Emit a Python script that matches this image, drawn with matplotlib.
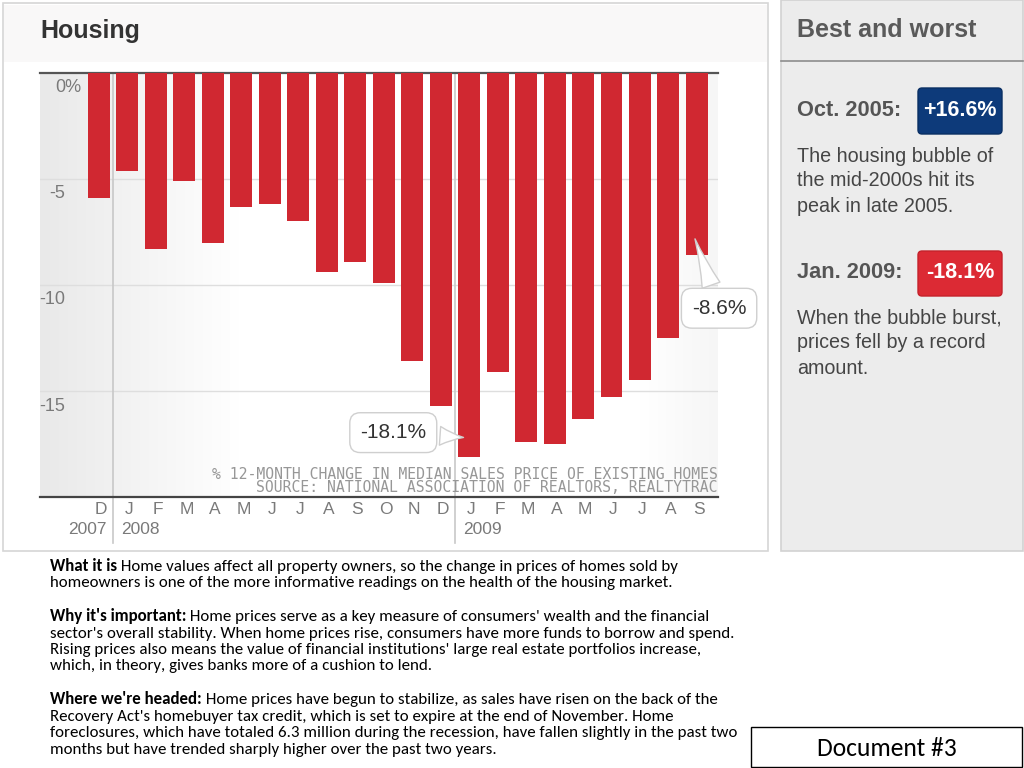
import numpy as np
import matplotlib
matplotlib.use("Agg")
import matplotlib.pyplot as plt
from matplotlib.patches import Rectangle, FancyBboxPatch

# -- data -------------------------------------------------------------------
months = ["D", "J", "F", "M", "A", "M", "J", "J", "A", "S", "O", "N",
          "D", "J", "F", "M", "A", "M", "J", "J", "A", "S"]
pct_change = [-5.9, -4.6, -8.3, -5.1, -8.0, -6.3, -6.2, -7.0, -9.4, -8.9, -9.9, -13.6,
              -15.7, -18.1, -14.1, -17.4, -17.5, -16.3, -15.3, -14.5, -12.5, -8.6]
year_labels = ["2007", "2008", "2009"]
year_starts = [0, 1, 13]          # bar index where each year label sits
y_ticks = [0, -5, -10, -15]
callouts = {13: "-18.1%", 21: "-8.6%"}

source_lines = ["% 12-MONTH CHANGE IN MEDIAN SALES PRICE OF EXISTING HOMES",
                "SOURCE: NATIONAL ASSOCIATION OF REALTORS, REALTYTRAC"]

notes = [
    ("What it is", " Home values affect all property owners, so the change in prices of homes sold by",
     ["homeowners is one of the more informative readings on the health of the housing market."]),
    ("Why it's important:", " Home prices serve as a key measure of consumers' wealth and the financial",
     ["sector's overall stability. When home prices rise, consumers have more funds to borrow and spend.",
      "Rising prices also means the value of financial institutions' large real estate portfolios increase,",
      "which, in theory, gives banks more of a cushion to lend."]),
    ("Where we're headed:", " Home prices have begun to stabilize, as sales have risen on the back of the",
     ["Recovery Act's homebuyer tax credit, which is set to expire at the end of November. Home",
      "foreclosures, which have totaled 6.3 million during the recession, have fallen slightly in the past two",
      "months but have trended sharply higher over the past two years."]),
]

RED = "#d02831"
GREY_TXT = "#7a7a7a"
plt.rcParams["font.family"] = ["Liberation Sans", "DejaVu Sans"]

fig = plt.figure(figsize=(10.24, 7.68), dpi=100)
fig.patch.set_facecolor("white")

# background layer in pixel coords
bg = fig.add_axes([0, 0, 1, 1], zorder=0)
bg.set_xlim(0, 1024)
bg.set_ylim(768, 0)
bg.axis("off")

bg.add_patch(Rectangle((3, 3), 765, 548, fc="white", ec="#d6d6d6", lw=1.2))
bg.add_patch(Rectangle((4, 5), 763, 57, fc="#f9f8f8", ec="none"))
# soft grey shading on the left of the plot area
grad = np.linspace(0, 1, 200)[None, :]
bg.imshow(grad, cmap=matplotlib.colors.LinearSegmentedColormap.from_list("g", ["#e9e9e9", "#ffffff"]),
          extent=[40, 240, 497, 73], aspect="auto", zorder=1)
bg.imshow(grad[:, ::-1], cmap=matplotlib.colors.LinearSegmentedColormap.from_list("g2", ["#f6f6f6", "#ffffff"]),
          extent=[640, 718, 497, 73], aspect="auto", zorder=1)

# right side panel
bg.add_patch(Rectangle((781, 0), 242, 551, fc="#ececec", ec="#d2d2d2", lw=1.2))
bg.plot([781, 1023], [61, 61], color="#8c8c8c", lw=1.2)

# -- bar chart ----------------------------------------------------------------
ax = fig.add_axes([40 / 1024, 1 - 497 / 768, 678 / 1024, 424 / 768], zorder=1)
ax.patch.set_alpha(0)
x = np.arange(len(pct_change))
ax.bar(x, pct_change, width=0.77, color=RED, zorder=3)
ax.set_xlim(-2.07, 21.74)
ax.set_ylim(-20, 0)

for s in ["left", "right"]:
    ax.spines[s].set_visible(False)
ax.spines["top"].set_color("#555555")
ax.spines["top"].set_linewidth(1.6)
ax.spines["bottom"].set_color("#444444")
ax.spines["bottom"].set_linewidth(1.6)
ax.set_xticks([])
ax.set_yticks([])

for v in y_ticks:
    if v != 0:
        ax.axhline(v, color="#dedede", lw=1, zorder=1)
    lab = f"{v}%" if v == 0 else f"{v}"
    ax.annotate(lab, xy=(0, v), xycoords=("axes fraction", "data"),
                xytext=(25 + (16 if v == 0 else 0), -15), textcoords="offset pixels",
                ha="right", va="center", fontsize=13, color=GREY_TXT)

# year separators
for i in year_starts[1:]:
    ax.axvline(i - 0.5, ymin=-0.108, ymax=1, color="#c8c8c8", lw=1.2, clip_on=False, zorder=2)

for i, m in enumerate(months):
    ax.annotate(m, xy=(i, 0), xycoords=("data", "axes fraction"),
                xytext=(2, -13), textcoords="offset pixels",
                ha="center", va="center", fontsize=12.5, color=GREY_TXT)

for lab, i in zip(year_labels, year_starts):
    if i == 0:
        ax.annotate(lab, xy=(i + 0.5, 0), xycoords=("data", "axes fraction"),
                    xytext=(-7, -32), textcoords="offset pixels",
                    ha="right", va="center", fontsize=12.5, color=GREY_TXT)
    else:
        ax.annotate(lab, xy=(i - 0.5, 0), xycoords=("data", "axes fraction"),
                    xytext=(8, -32), textcoords="offset pixels",
                    ha="left", va="center", fontsize=12.5, color=GREY_TXT)

# source note, one block of two lines
ax.annotate("\n".join(source_lines), xy=(1, 0), xycoords="axes fraction",
            xytext=(0, 16), textcoords="offset pixels",
            ha="right", va="center", multialignment="right", linespacing=0.85,
            fontsize=10.6, color="#979797", family="DejaVu Sans Mono")

# callouts
offsets = {13: (-73, 5), 21: (25, -72)}
for i, lab in callouts.items():
    v = pct_change[i]
    ax.annotate(lab, xy=(i - 0.1, v + 0.9), xycoords="data",
                xytext=offsets[i], textcoords="offset pixels",
                ha="center", va="center", fontsize=15, color="#333333", zorder=6,
                bbox=dict(boxstyle="round,pad=0.5,rounding_size=0.5", fc="white", ec="#cfcfcf", lw=1),
                arrowprops=dict(arrowstyle="wedge,tail_width=0.9,shrink_factor=0.4",
                                fc="white", ec="#cfcfcf", lw=1),
                annotation_clip=False)

# -- text layer -----------------------------------------------------------
ov = fig.add_axes([0, 0, 1, 1], zorder=3)
ov.set_xlim(0, 1024)
ov.set_ylim(768, 0)
ov.axis("off")

ov.text(40, 31, "Housing", fontsize=18, fontweight="bold", color="#333333", va="center")
ov.text(797, 30, "Best and worst", fontsize=18, fontweight="bold", color="#5a5a5a", va="center")

ov.text(797, 111, "Oct. 2005:", fontsize=15.7, fontweight="bold", color="#555555", va="center")
ov.add_patch(FancyBboxPatch((918, 88), 84, 46, boxstyle="round,pad=0,rounding_size=4",
                            fc="#0d3a7a", ec="#0a2f63", lw=1))
ov.text(960, 111, "+16.6%", fontsize=15.5, fontweight="bold", color="white", ha="center", va="center")
for k, line in enumerate(["The housing bubble of", "the mid-2000s hit its", "peak in late 2005."]):
    ov.text(797, 156 + 25 * k, line, fontsize=14.2, color="#454545", va="center")

ov.text(797, 273, "Jan. 2009:", fontsize=15.7, fontweight="bold", color="#555555", va="center")
ov.add_patch(FancyBboxPatch((918, 251), 84, 45, boxstyle="round,pad=0,rounding_size=4",
                            fc="#dc2a34", ec="#c4222b", lw=1))
ov.text(960, 273, "-18.1%", fontsize=15.5, fontweight="bold", color="white", ha="center", va="center")
for k, line in enumerate(["When the bubble burst,", "prices fell by a record", "amount."]):
    ov.text(797, 318 + 25 * k, line, fontsize=14.2, color="#454545", va="center")

# explanatory notes
note_font = ["Carlito", "Lato", "DejaVu Sans"]
y = 571
for head, first, rest in notes:
    t = ov.text(50, y, head, fontsize=12.2, fontweight="bold", family=note_font, va="baseline")
    ov.annotate(first, xy=(1, y), xycoords=(t, "data"), fontsize=12.2, family=note_font,
                va="baseline", ha="left")
    y += 16.4
    for line in rest:
        ov.text(50, y, line, fontsize=12.2, family=note_font, va="baseline")
        y += 16.4
    y += 17.5

ov.add_patch(Rectangle((751, 727), 271, 40, fc="white", ec="black", lw=1))
ov.text(887, 748, "Document #3", fontsize=18.4, family=note_font, ha="center", va="center")

fig.savefig("out.png", dpi=100)
